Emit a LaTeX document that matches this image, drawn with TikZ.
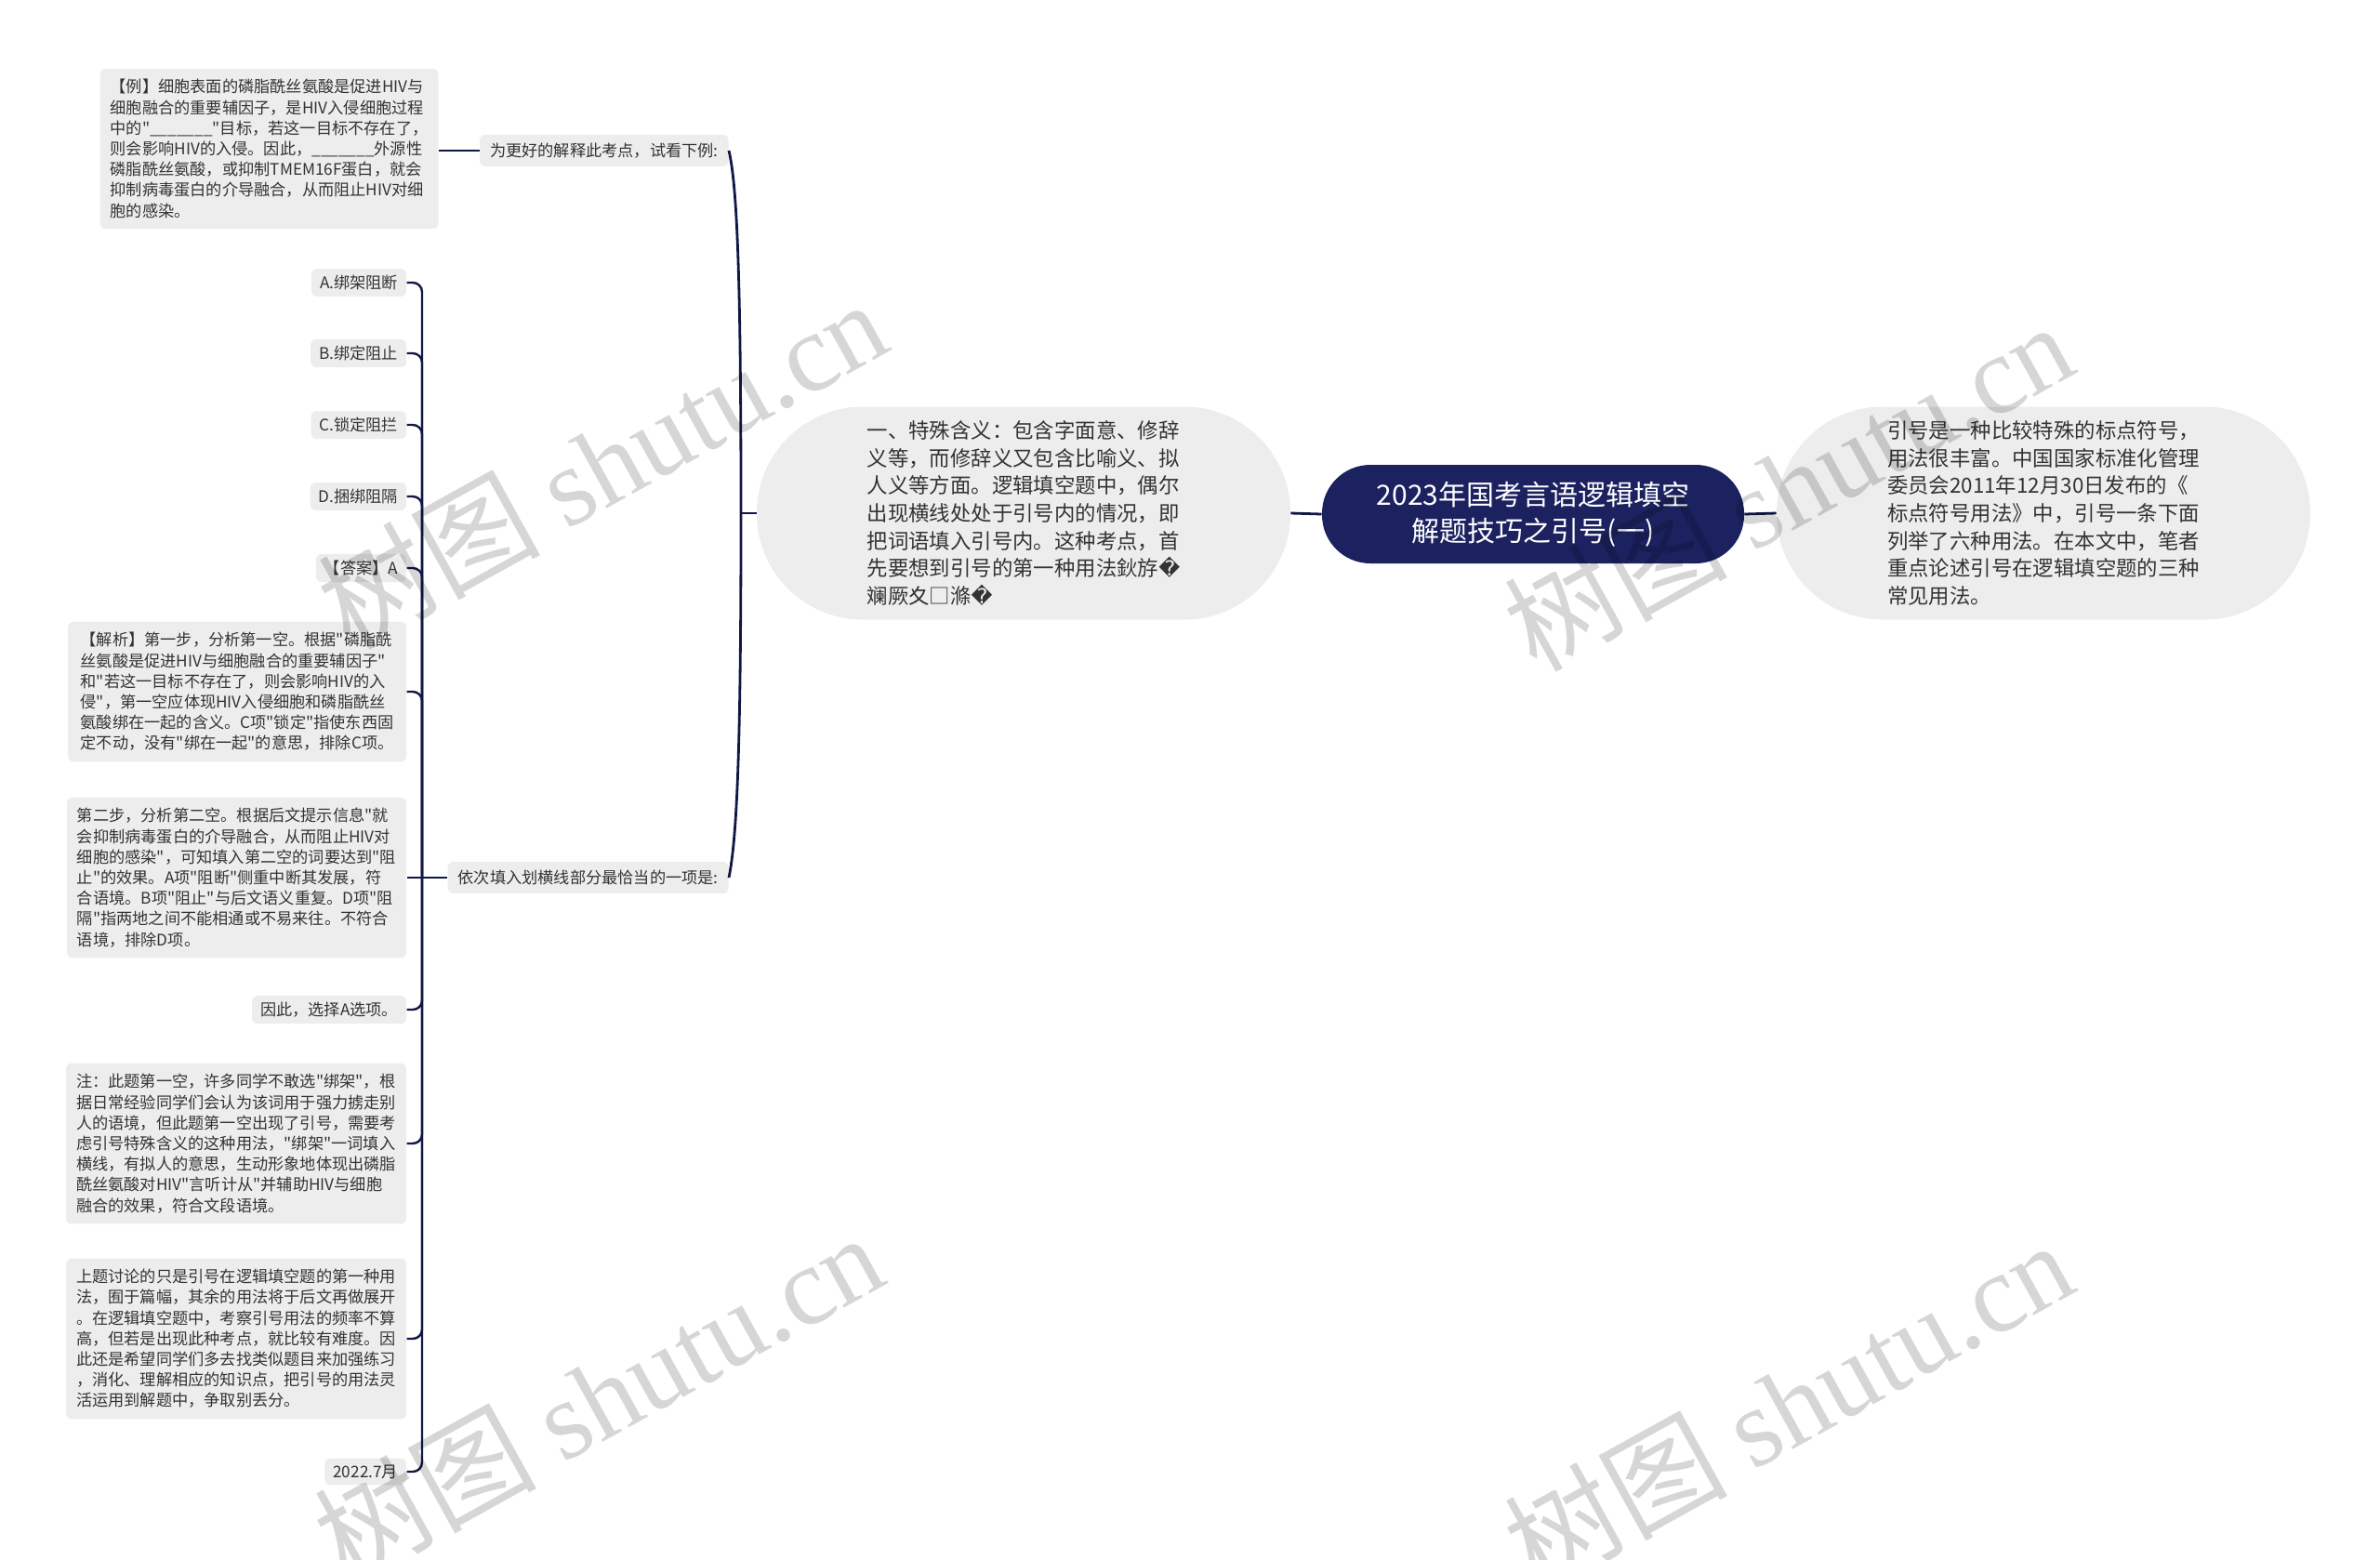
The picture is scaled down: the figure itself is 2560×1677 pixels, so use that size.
\documentclass[tikz,border=0pt]{standalone}
\usepackage{fontspec}
\setmainfont{Noto Sans CJK SC}[Ligatures=TeXOff]
\newfontfamily\wmlatin{Liberation Serif}
\newfontfamily\symfont{DejaVu Sans}

\definecolor{rootnavy}{HTML}{1C2260}
\definecolor{linenavy}{HTML}{111743}
\definecolor{boxgray}{HTML}{EDEDED}
\definecolor{textgray}{HTML}{333333}

\tikzset{
  rootbox/.style={fill=rootnavy, text=white, rounded corners=26pt, align=center,
    minimum width=227pt, minimum height=53pt, font=\fontsize{15}{19.5}\selectfont},
  mainbox/.style={fill=boxgray, text=textgray, rounded corners=57pt, align=left,
    minimum width=287pt, minimum height=114.5pt, font=\fontsize{11.2}{14.85}\selectfont},
  subbox/.style={fill=boxgray, text=textgray, rounded corners=3pt, align=left,
    inner xsep=5.5pt, inner ysep=4.5pt, font=\fontsize{8.6}{11.1}\selectfont},
  leaf/.style={subbox, inner ysep=3.5pt, inner xsep=4.5pt},
  bigleaf/.style={subbox, minimum width=182pt, inner ysep=5.8pt},
  link/.style={draw=linenavy, line width=1.4pt},
  leaflink/.style={draw=linenavy, line width=1.2pt, rounded corners=5pt},
  wmark/.style={text=black, text opacity=0.16, rotate=29,
    font=\fontsize{60}{60}\selectfont}
}

\begin{document}
\begin{tikzpicture}[x=0.5pt, y=-0.5pt]
\useasboundingbox (0,0) rectangle (2560,1677);

% Centre and the two big branches
\node[rootbox] (root) at (1649,553) {2023年国考言语逻辑填空\\解题技巧之引号(一)};
\node[mainbox] (intro) at (2198,552) {引号是一种比较特殊的标点符号，\\
用法很丰富。中国国家标准化管理\\
委员会2011年12月30日发布的《\\
标点符号用法》中，引号一条下面\\
列举了六种用法。在本文中，笔者\\
重点论述引号在逻辑填空题的三种\\
常见用法。};
\node[mainbox] (usage) at (1101,552) {一、特殊含义：包含字面意、修辞\\
义等，而修辞义又包含比喻义、拟\\
人义等方面。逻辑填空题中，偶尔\\
出现横线处处于引号内的情况，即\\
把词语填入引号内。这种考点，首\\
先要想到引号的第一种用法鈥斿{\symfont �}\\
斓厥夊□滌{\symfont �}};

\draw[link] (root.east) -- (intro.west);
\draw[link] (root.west) -- (usage.east);

% Second level
\node[subbox, anchor=east] (tryit) at (784,162) {为更好的解释此考点，试看下例:};
\node[subbox, anchor=east] (fillin) at (784,944) {依次填入划横线部分最恰当的一项是:};

\coordinate (spL) at (797,552);
\draw[link] (usage.west) -- (spL);
\draw[link] (spL) .. controls (797,300) and (793,200) .. (tryit.east);
\draw[link] (spL) .. controls (797,800) and (793,900) .. (fillin.east);

% The example text
\node[bigleaf, anchor=east] (example) at (472,160) {【例】细胞表面的磷脂酰丝氨酸是促进HIV与\\
细胞融合的重要辅因子，是HIV入侵细胞过程\\
中的"\_\_\_\_\_\_\_"目标，若这一目标不存在了，\\
则会影响HIV的入侵。因此，\_\_\_\_\_\_\_外源性\\
磷脂酰丝氨酸，或抑制TMEM16F蛋白，就会\\
抑制病毒蛋白的介导融合，从而阻止HIV对细\\
胞的感染。};
\draw[link] (tryit.west) -- (tryit.west -| example.east);

% Options and answer
\node[leaf, anchor=east] (optA) at (437.5,304) {A.绑架阻断};
\node[leaf, anchor=east] (optB) at (437.5,380) {B.绑定阻止};
\node[leaf, anchor=east] (optC) at (437.5,457) {C.锁定阻拦};
\node[leaf, anchor=east] (optD) at (437.5,534) {D.捆绑阻隔};
\node[leaf, anchor=east] (answer) at (437.5,611) {【答案】A};
\node[bigleaf, anchor=east] (step1) at (437.5,744) {【解析】第一步，分析第一空。根据"磷脂酰\\
丝氨酸是促进HIV与细胞融合的重要辅因子"\\
和"若这一目标不存在了，则会影响HIV的入\\
侵"，第一空应体现HIV入侵细胞和磷脂酰丝\\
氨酸绑在一起的含义。C项"锁定"指使东西固\\
定不动，没有"绑在一起"的意思，排除C项。};
\node[bigleaf, anchor=east] (step2) at (437.5,944) {第二步，分析第二空。根据后文提示信息"就\\
会抑制病毒蛋白的介导融合，从而阻止HIV对\\
细胞的感染"，可知填入第二空的词要达到"阻\\
止"的效果。A项"阻断"侧重中断其发展，符\\
合语境。B项"阻止"与后文语义重复。D项"阻\\
隔"指两地之间不能相通或不易来往。不符合\\
语境，排除D项。};
\node[leaf, anchor=east] (choice) at (437.5,1086) {因此，选择A选项。};
\node[bigleaf, anchor=east] (remark) at (437.5,1230) {注：此题第一空，许多同学不敢选"绑架"，根\\
据日常经验同学们会认为该词用于强力掳走别\\
人的语境，但此题第一空出现了引号，需要考\\
虑引号特殊含义的这种用法，"绑架"一词填入\\
横线，有拟人的意思，生动形象地体现出磷脂\\
酰丝氨酸对HIV"言听计从"并辅助HIV与细胞\\
融合的效果，符合文段语境。};
\node[bigleaf, anchor=east] (summary) at (437.5,1440) {上题讨论的只是引号在逻辑填空题的第一种用\\
法，囿于篇幅，其余的用法将于后文再做展开\\
。在逻辑填空题中，考察引号用法的频率不算\\
高，但若是出现此种考点，就比较有难度。因\\
此还是希望同学们多去找类似题目来加强练习\\
，消化、理解相应的知识点，把引号的用法灵\\
活运用到解题中，争取别丢分。};
\node[leaf, anchor=east] (date) at (437.5,1583) {2022.7月};

\coordinate (spB) at (454,944);
\draw[link] (fillin.west) -- (spB);
\draw[leaflink] (spB) -- (step2.east);
\foreach \n in {optA,optB,optC,optD,answer,step1,choice,remark,summary,date}
  \draw[leaflink] (spB) |- (\n.east);

% Watermarks
\foreach \p in {(647,498),(1923,522),(643,1502),(1923,1510)}
  \node[wmark] at \p {树图 {\wmlatin shutu.cn}};
\end{tikzpicture}
\end{document}
